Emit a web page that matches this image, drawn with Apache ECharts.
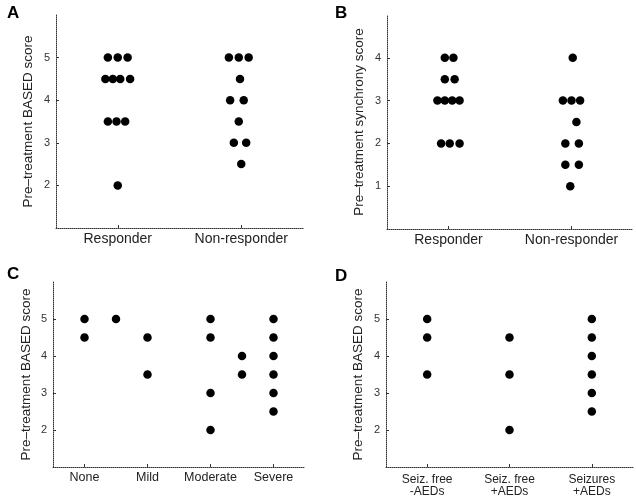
<!DOCTYPE html>
<html><head><meta charset="utf-8">
<script src="https://cdn.jsdelivr.net/npm/echarts@6/dist/echarts.min.js"></script>
<style>html,body{margin:0;padding:0;background:#fff}#c{width:636px;height:498px}</style>
</head><body><div id="c"></div>
<script>
// ---- Data ----
const catsA = ['Responder', 'Non-responder'];
const catsB = ['Responder', 'Non-responder'];
const catsC = ['None', 'Mild', 'Moderate', 'Severe'];
const catsD = ['Seiz. free\n-AEDs', 'Seiz. free\n+AEDs', 'Seizures\n+AEDs'];

const ticksA = [2, 3, 4, 5];
const ticksB = [1, 2, 3, 4];
const ticksC = [2, 3, 4, 5];
const ticksD = [2, 3, 4, 5];

// Panel A: BASED score by response (x = group position incl. spread)
const aX = [0.92, 1.00, 1.08, 0.90, 0.96, 1.02, 1.10, 0.92, 0.99, 1.06, 1.00,
            1.90, 1.98, 2.06, 1.99, 1.91, 2.02, 1.98, 1.94, 2.04, 2.00];
const aY = [5, 5, 5, 4.5, 4.5, 4.5, 4.5, 3.5, 3.5, 3.5, 2,
            5, 5, 5, 4.5, 4, 4, 3.5, 3, 3, 2.5];

// Panel B: synchrony score by response
const bX = [0.97, 1.04, 0.97, 1.05, 0.91, 0.97, 1.03, 1.09, 0.94, 1.01, 1.09,
            2.01, 1.93, 2.00, 2.07, 2.04, 1.95, 2.06, 1.95, 2.06, 1.99];
const bY = [4, 4, 3.5, 3.5, 3, 3, 3, 3, 2, 2, 2,
            4, 3, 3, 3, 2.5, 2, 2, 1.5, 1.5, 1];

// Panel C: BASED score by severity
const cX = [1, 1, 1.5, 2, 2, 3, 3, 3, 3, 3.5, 3.5, 4, 4, 4, 4, 4, 4];
const cY = [5, 4.5, 5, 4.5, 3.5, 5, 4.5, 3, 2, 4, 3.5, 5, 4.5, 4, 3.5, 3, 2.5];

// Panel D: BASED score by outcome
const dX = [1, 1, 1, 2, 2, 2, 3, 3, 3, 3, 3, 3];
const dY = [5, 4.5, 3.5, 4.5, 3.5, 2, 5, 4.5, 4, 3.5, 3, 2.5];

// ---- Chart ----
const FONT = '"Liberation Sans", Arial, Helvetica, sans-serif';
const axisLine = {show: true, lineStyle: {color: '#333', width: 1, type: [1, 1]}};

function zip(xs, ys) { return xs.map((x, i) => [x, ys[i]]); }

function xAx(grid, cats, min, max, fs, margin) {
  const vals = cats.map((_, i) => i + 1);
  return {
    type: 'value', gridIndex: grid, min: min, max: max,
    axisLine: axisLine, splitLine: {show: false},
    axisTick: {show: true, inside: true, length: 3, customValues: vals, lineStyle: {color: '#333'}},
    axisLabel: {show: true, customValues: vals, margin: margin, color: '#222', fontSize: fs, fontFamily: FONT,
      lineHeight: 12, formatter: v => cats[Math.round(v) - 1] || ''}
  };
}
function yAx(grid, ticks, min, max, name, gap) {
  return {
    type: 'value', gridIndex: grid, min: min, max: max,
    name: name, nameLocation: 'middle', nameGap: gap,
    nameTextStyle: {color: '#222', fontSize: 13.5, fontFamily: FONT},
    axisLine: axisLine, splitLine: {show: false},
    axisTick: {show: true, inside: true, length: 3, customValues: ticks, lineStyle: {color: '#333'}},
    axisLabel: {show: true, customValues: ticks, margin: 6, color: '#333', fontSize: 11, fontFamily: FONT}
  };
}
function sc(i, data) {
  return {type: 'scatter', xAxisIndex: i, yAxisIndex: i, data: data,
    symbol: 'circle', symbolSize: 8.5, itemStyle: {color: '#000', opacity: 1}, silent: true, animation: false};
}

const chart = echarts.init(document.getElementById('c'), null, {renderer: 'canvas'});
chart.setOption({
  animation: false,
  backgroundColor: '#fff',
  title: [
    {text: 'A', left: 2, top: 0, textStyle: {fontSize: 17, fontWeight: 'bold', color: '#000', fontFamily: FONT}},
    {text: 'B', left: 330, top: 0, textStyle: {fontSize: 17, fontWeight: 'bold', color: '#000', fontFamily: FONT}},
    {text: 'C', left: 2, top: 261, textStyle: {fontSize: 17, fontWeight: 'bold', color: '#000', fontFamily: FONT}},
    {text: 'D', left: 330, top: 263, textStyle: {fontSize: 17, fontWeight: 'bold', color: '#000', fontFamily: FONT}}
  ],
  grid: [
    {left: 56, top: 15, width: 247, height: 213},
    {left: 387, top: 15, width: 246, height: 214},
    {left: 53, top: 282, width: 252, height: 185},
    {left: 386, top: 282, width: 247, height: 185}
  ],
  xAxis: [
    xAx(0, catsA, 0.5, 2.5, 14, 5),
    xAx(1, catsB, 0.5, 2.5, 14, 5),
    xAx(2, catsC, 0.5, 4.5, 12.5, 5),
    xAx(3, catsD, 0.5, 3.5, 12, 7)
  ],
  yAxis: [
    yAx(0, ticksA, 1, 6, 'Pre\u2013treatment BASED score', 21),
    yAx(1, ticksB, 0, 5, 'Pre\u2013treatment synchrony score', 21),
    yAx(2, ticksC, 1, 6, 'Pre\u2013treatment BASED score', 20),
    yAx(3, ticksD, 1, 6, 'Pre\u2013treatment BASED score', 21)
  ],
  series: [sc(0, zip(aX, aY)), sc(1, zip(bX, bY)), sc(2, zip(cX, cY)), sc(3, zip(dX, dY))]
});
</script>
</body></html>
